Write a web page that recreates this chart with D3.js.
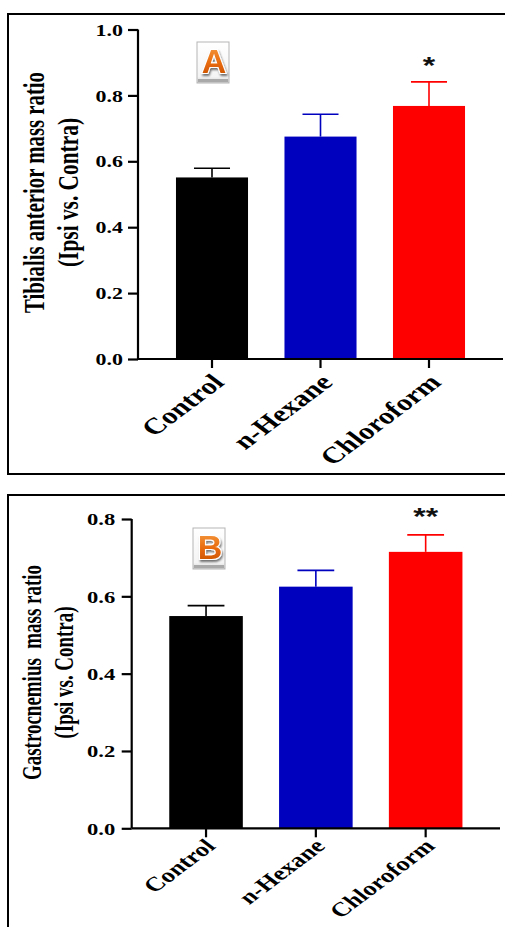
<!DOCTYPE html>
<html><head><meta charset="utf-8">
<script src="https://cdn.jsdelivr.net/npm/d3@7/dist/d3.min.js"></script>
<style>
html,body{margin:0;padding:0;background:#fff;}
svg{display:block;}
text{font-family:"Times New Roman","Liberation Serif",serif;}
</style></head>
<body>
<svg id="chart" width="505" height="927"></svg>
<script>
// ---- data ----
const categories = ["Control", "n-Hexane", "Chloroform"];
const barColors = ["#000000", "#0000bf", "#ff0000"];
const taMeans = [0.551, 0.675, 0.768];
const taErrors = [0.028, 0.068, 0.073];
const taSig = ["", "", "*"];
const taTicks = [0, 0.2, 0.4, 0.6, 0.8, 1.0];
const gaMeans = [0.549, 0.625, 0.715];
const gaErrors = [0.027, 0.042, 0.044];
const gaSig = ["", "", "**"];
const gaTicks = [0, 0.2, 0.4, 0.6, 0.8];

const SX = 1.33; // horizontal stretch of the original picture
const svg = d3.select("#chart");

const defs = svg.append("defs");
const grad = defs.append("linearGradient").attr("id", "orangeGrad").attr("x1", 0).attr("y1", 0).attr("x2", 0).attr("y2", 1);
grad.append("stop").attr("offset", "0%").attr("stop-color", "#f7a24a");
grad.append("stop").attr("offset", "55%").attr("stop-color", "#e86a0c");
grad.append("stop").attr("offset", "100%").attr("stop-color", "#c24c00");
const boxGrad = defs.append("linearGradient").attr("id", "boxGrad").attr("x1", 0).attr("y1", 0).attr("x2", 0).attr("y2", 1);
boxGrad.append("stop").attr("offset", "0%").attr("stop-color", "#ffffff");
boxGrad.append("stop").attr("offset", "85%").attr("stop-color", "#f4f4f4");
boxGrad.append("stop").attr("offset", "100%").attr("stop-color", "#cfcfcf");
const flt = defs.append("filter").attr("id", "shadow").attr("x", "-30%").attr("y", "-30%").attr("width", "160%").attr("height", "160%");
flt.append("feDropShadow").attr("dx", 1).attr("dy", 2).attr("stdDeviation", 1.2).attr("flood-color", "#000").attr("flood-opacity", 0.55);

function drawPanel(cfg) {
  const g = svg.append("g");
  // frame
  g.append("rect").attr("x", cfg.frame[0]).attr("y", cfg.frame[1])
    .attr("width", cfg.frame[2]).attr("height", cfg.frame[3])
    .attr("fill", "none").attr("stroke", "#000").attr("stroke-width", 2);

  const x = d3.scaleBand().domain(categories).range([cfg.left, cfg.right])
    .paddingInner(cfg.pi).paddingOuter(cfg.po);
  const y = d3.scaleLinear().domain([0, cfg.ymax]).range([cfg.bottom, cfg.top]);

  const data = categories.map((c, i) => ({c, m: cfg.means[i], e: cfg.errs[i], col: barColors[i], sig: cfg.sig[i]}));

  // error bars (behind bars)
  const eb = g.append("g");
  data.forEach(d => {
    const cx = x(d.c) + x.bandwidth() / 2;
    eb.append("line").attr("x1", cx).attr("x2", cx).attr("y1", y(d.m)).attr("y2", y(d.m + d.e))
      .attr("stroke", d.col).attr("stroke-width", 1.6);
    eb.append("line").attr("x1", cx - x.bandwidth() / 4).attr("x2", cx + x.bandwidth() / 4)
      .attr("y1", y(d.m + d.e)).attr("y2", y(d.m + d.e))
      .attr("stroke", d.col).attr("stroke-width", 1.6);
  });
  // bars
  g.append("g").selectAll("rect").data(data).join("rect")
    .attr("x", d => x(d.c)).attr("width", x.bandwidth())
    .attr("y", d => y(d.m)).attr("height", d => y(0) - y(d.m))
    .attr("fill", d => d.col);

  // significance
  data.filter(d => d.sig).forEach(d => {
    const cx = x(d.c) + x.bandwidth() / 2;
    g.append("text").text(d.sig)
      .attr("transform", `translate(${cx},${y(d.m + d.e) - cfg.sigOff}) scale(${SX},1)`)
      .attr("text-anchor", "middle")
      .style("font-family", "Arial, 'Liberation Sans', sans-serif")
      .style("font-weight", "bold").style("font-size", "24px").attr("fill", "#111");
  });

  // y axis
  const ya = g.append("g").attr("transform", `translate(${cfg.left},0)`)
    .call(d3.axisLeft(y).tickValues(cfg.ticks).tickFormat(d3.format(".1f")).tickSize(10).tickSizeOuter(0));
  ya.select(".domain").attr("stroke-width", 2.2).attr("d", `M0,${cfg.bottom}V${cfg.top}`);
  ya.selectAll(".tick line").attr("stroke-width", 2.2);
  ya.selectAll(".tick text")
    .attr("x", -cfg.labGap / SX).attr("dy", "0.34em")
    .attr("transform", `scale(${SX},1)`)
    .style("font-family", "'Times New Roman','Liberation Serif',serif")
    .style("font-weight", "bold").style("font-size", cfg.tickFont + "px").attr("fill", "#000");

  // x axis
  const xa = g.append("g").attr("transform", `translate(0,${cfg.bottom})`)
    .call(d3.axisBottom(x).tickSize(9).tickSizeOuter(0));
  xa.select(".domain").attr("stroke-width", 2.2).attr("d", `M${cfg.left},0H${cfg.right}`);
  xa.selectAll(".tick line").attr("stroke-width", 2.2);
  xa.selectAll(".tick text")
    .attr("x", 0).attr("y", 0).attr("dy", "0.35em")
    .attr("text-anchor", "end")
    .attr("transform", `translate(${cfg.xlabOff[0]},${cfg.xlabOff[1]}) scale(${SX},1) rotate(-45)`)
    .style("font-family", "'Times New Roman','Liberation Serif',serif")
    .style("font-weight", "bold").style("font-size", cfg.xFont + "px").attr("fill", "#000");

  // y title
  cfg.title.forEach((t, i) => {
    g.append("text").text(t)
      .attr("transform", `translate(${cfg.titleX[i]},${cfg.titleY}) scale(${SX},1) rotate(-90)`)
      .attr("text-anchor", "middle")
      .attr("textLength", cfg.titleLen[i]).attr("lengthAdjust", "spacingAndGlyphs")
      .style("white-space", "pre")
      .style("font-weight", "bold")
      .style("font-size", cfg.titleFont + "px").attr("fill", "#000");
  });

  // badge
  const b = g.append("g").attr("transform", `translate(${cfg.badge[0]},${cfg.badge[1]})`);
  b.append("rect").attr("x", -16).attr("y", -20).attr("width", 32).attr("height", 41)
    .attr("fill", "url(#boxGrad)").attr("stroke", "#b5b5b5").attr("stroke-width", 1);
  b.append("rect").attr("x", -15).attr("y", 17).attr("width", 30).attr("height", 3)
    .attr("fill", "#a9a9a9");
  b.append("text").text(cfg.badgeLetter)
    .attr("x", 1).attr("y", 11)
    .attr("text-anchor", "middle")
    .attr("filter", "url(#shadow)")
    .style("font-family", "Arial, 'Liberation Sans', sans-serif")
    .style("font-weight", "bold").style("font-size", "34px")
    .attr("fill", "url(#orangeGrad)")
    .attr("stroke", "#fff").attr("stroke-width", 2.2)
    .style("paint-order", "stroke");
}

drawPanel({
  frame: [8, 14, 520, 460],
  left: 138, right: 503, top: 29.5, bottom: 359, ymax: 1.0,
  pi: 0.336, po: 0.35,
  means: taMeans, errs: taErrors, sig: taSig, ticks: taTicks,
  sigOff: 8, labGap: 15, tickFont: 16.5, xFont: 23, xlabOff: [6, 19],
  title: ["Tibialis anterior mass ratio", "(Ipsi vs. Contra)"],
  titleLen: [241, 149],
  titleX: [44, 78], titleY: 192.5, titleFont: 22,
  badge: [213, 62], badgeLetter: "A"
});

drawPanel({
  frame: [8, 495, 520, 460],
  left: 131.7, right: 500, top: 519, bottom: 828.3, ymax: 0.8,
  pi: 0.33, po: 0.342,
  means: gaMeans, errs: gaErrors, sig: gaSig, ticks: gaTicks,
  sigOff: 10, labGap: 16.5, tickFont: 17, xFont: 20, xlabOff: [4, 14],
  title: ["Gastrocnemius  mass ratio", "(Ipsi vs. Contra)"],
  titleLen: [215, 132],
  titleX: [41, 73], titleY: 672.5, titleFont: 21,
  badge: [209, 548], badgeLetter: "B"
});
</script>
</body></html>
